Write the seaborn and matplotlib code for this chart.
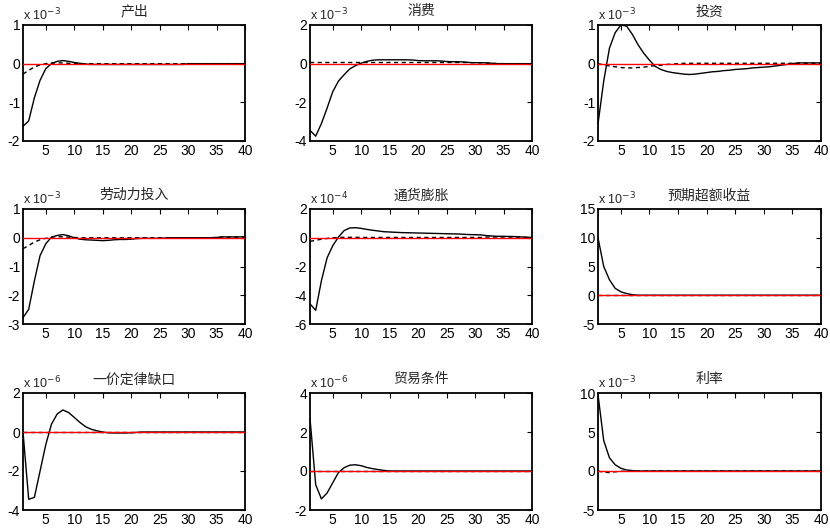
import matplotlib
matplotlib.use("Agg")
import matplotlib.pyplot as plt
import seaborn as sns
import pandas as pd

sns.set_style("white")
plt.rcParams['font.family'] = ['Liberation Sans Narrow', 'Liberation Sans', 'Noto Sans CJK SC', 'DejaVu Sans']
plt.rcParams['axes.unicode_minus'] = False

periods = list(range(1, 41))
xtick_vals = [5, 10, 15, 20, 25, 30, 35, 40]

titles = ["产出", "消费", "投资", "劳动力投入", "通货膨胀", "预期超额收益", "一价定律缺口", "贸易条件", "利率"]
exponents = [-3, -3, -3, -3, -4, -3, -6, -6, -3]
ylims = [(-2, 1), (-4, 2), (-2, 1), (-3, 1), (-6, 2), (-5, 15), (-4, 2), (-2, 4), (-5, 10)]
yticks = [[-2, -1, 0, 1], [-4, -2, 0, 2], [-2, -1, 0, 1], [-3, -2, -1, 0, 1],
          [-6, -4, -2, 0, 2], [-5, 0, 5, 10, 15], [-4, -2, 0, 2], [-2, 0, 2, 4], [-5, 0, 5, 10]]

out_solid = [-1.62, -1.48, -0.88, -0.43, -0.13, 0.00, 0.06, 0.08, 0.06, 0.03,
             0.01, -0.01, -0.02, -0.02, -0.02, -0.02, -0.02, -0.02, -0.02, -0.02,
             -0.02, -0.02, -0.02, -0.02, -0.02, -0.02, -0.02, -0.02, -0.02, 0.00,
             0.00, 0.00, 0.00, 0.00, 0.00, 0.00, 0.00, 0.00, 0.00, 0.00]
out_dash = [-0.27, -0.17, -0.09, -0.03, 0.00, 0.02, 0.02, 0.02, 0.01, 0.00,
            0.00, 0.00, 0.00, 0.00, 0.00, 0.00, 0.00, 0.00, 0.00, 0.00,
            0.00, 0.00, 0.00, 0.00, 0.00, 0.00, 0.00, 0.00, 0.00, 0.00,
            0.00, 0.00, 0.00, 0.00, 0.00, 0.00, 0.00, 0.00, 0.00, 0.00]

cons_solid = [-3.45, -3.75, -3.10, -2.30, -1.45, -0.90, -0.57, -0.27, -0.10, 0.03,
              0.12, 0.18, 0.20, 0.20, 0.20, 0.20, 0.20, 0.20, 0.19, 0.16,
              0.15, 0.15, 0.15, 0.14, 0.11, 0.10, 0.10, 0.09, 0.06, 0.05,
              0.05, 0.04, 0.02, 0.00, 0.00, 0.00, 0.00, 0.00, 0.00, 0.00]
cons_dash = [0.06, 0.06, 0.06, 0.06, 0.06, 0.06, 0.06, 0.06, 0.06, 0.06,
             0.06, 0.06, 0.06, 0.06, 0.06, 0.06, 0.06, 0.06, 0.06, 0.06,
             0.06, 0.06, 0.06, 0.06, 0.06, 0.06, 0.06, 0.06, 0.05, 0.05,
             0.04, 0.03, 0.02, 0.00, 0.00, 0.00, 0.00, 0.00, 0.00, 0.00]

inv_solid = [-1.56, -0.45, 0.40, 0.80, 1.00, 0.97, 0.76, 0.49, 0.27, 0.09,
             -0.07, -0.15, -0.20, -0.23, -0.25, -0.27, -0.28, -0.27, -0.25, -0.23,
             -0.21, -0.20, -0.18, -0.17, -0.15, -0.14, -0.13, -0.11, -0.10, -0.09,
             -0.08, -0.06, -0.04, -0.02, 0.00, 0.02, 0.02, 0.02, 0.02, 0.02]
inv_dash = [0.00, -0.03, -0.06, -0.08, -0.10, -0.11, -0.11, -0.10, -0.09, -0.07,
            -0.05, -0.04, -0.02, -0.01, 0.00, 0.01, 0.01, 0.01, 0.01, 0.01,
            0.01, 0.01, 0.01, 0.01, 0.01, 0.01, 0.01, 0.01, 0.01, 0.01,
            0.01, 0.01, 0.01, 0.01, 0.01, 0.01, 0.01, 0.01, 0.01, 0.01]

labor_solid = [-2.78, -2.49, -1.50, -0.62, -0.21, 0.02, 0.08, 0.11, 0.07, 0.00,
               -0.05, -0.07, -0.08, -0.09, -0.10, -0.09, -0.07, -0.06, -0.06, -0.05,
               -0.03, -0.02, -0.02, -0.02, -0.02, -0.01, 0.00, 0.00, 0.00, 0.00,
               0.00, 0.00, 0.00, 0.00, 0.01, 0.03, 0.03, 0.03, 0.03, 0.03]
labor_dash = [-0.38, -0.27, -0.15, -0.07, -0.02, 0.02, 0.04, 0.03, 0.02, 0.01,
              0.00, 0.00, 0.00, 0.00, 0.00, 0.00, 0.00, 0.00, 0.00, 0.00,
              0.00, 0.00, 0.00, 0.00, 0.00, 0.00, 0.00, 0.00, 0.00, 0.00,
              0.00, 0.00, 0.00, 0.00, 0.01, 0.02, 0.02, 0.02, 0.02, 0.02]

infl_solid = [-4.60, -5.05, -3.00, -1.40, -0.55, 0.05, 0.50, 0.68, 0.70, 0.65,
              0.58, 0.52, 0.47, 0.42, 0.40, 0.38, 0.36, 0.35, 0.34, 0.33,
              0.32, 0.31, 0.30, 0.29, 0.28, 0.27, 0.26, 0.24, 0.22, 0.21,
              0.20, 0.15, 0.12, 0.10, 0.10, 0.09, 0.08, 0.06, 0.04, 0.02]
infl_dash = [-0.25, -0.18, -0.10, -0.05, 0.00, 0.02, 0.03, 0.03, 0.03, 0.02,
             0.02, 0.02, 0.02, 0.02, 0.02, 0.02, 0.02, 0.02, 0.02, 0.02,
             0.02, 0.02, 0.02, 0.02, 0.02, 0.02, 0.02, 0.02, 0.02, 0.02,
             0.02, 0.05, 0.05, 0.05, 0.05, 0.05, 0.05, 0.05, 0.02, 0.02]

exr_solid = [10.0, 5.0, 2.7, 1.2, 0.6, 0.3, 0.1, 0.0, 0.0, 0.0,
             0.0, 0.0, 0.0, 0.0, 0.0, 0.0, 0.0, 0.0, 0.0, 0.0,
             0.0, 0.0, 0.0, 0.0, 0.0, 0.0, 0.0, 0.0, 0.0, 0.0,
             0.0, 0.0, 0.0, 0.0, 0.0, 0.0, 0.0, 0.0, 0.0, 0.0]
exr_dash = [0.0, 0.0, 0.0, 0.0, 0.0, 0.0, 0.0, 0.0, 0.0, 0.0,
            0.0, 0.0, 0.0, 0.0, 0.0, 0.0, 0.0, 0.0, 0.0, 0.0,
            0.0, 0.0, 0.0, 0.0, 0.0, 0.0, 0.0, 0.0, 0.0, 0.0,
            0.0, 0.0, 0.0, 0.0, 0.0, 0.0, 0.0, 0.0, 0.0, 0.0]

lop_solid = [0.00, -3.45, -3.35, -2.00, -0.65, 0.40, 0.92, 1.13, 1.00, 0.75,
             0.49, 0.27, 0.14, 0.06, 0.00, -0.04, -0.05, -0.05, -0.05, -0.04,
             -0.02, 0.00, 0.00, 0.00, 0.00, 0.00, 0.00, 0.00, 0.00, 0.00,
             0.00, 0.00, 0.00, 0.00, 0.00, 0.00, 0.00, 0.00, 0.00, 0.00]
lop_dash = [0.0, 0.0, 0.0, 0.0, 0.0, 0.0, 0.0, 0.0, 0.0, 0.0,
            0.0, 0.0, 0.0, 0.0, 0.0, 0.0, 0.0, 0.0, 0.0, 0.0,
            0.0, 0.0, 0.0, 0.0, 0.0, 0.0, 0.0, 0.0, 0.0, 0.0,
            0.0, 0.0, 0.0, 0.0, 0.0, 0.0, 0.0, 0.0, 0.0, 0.0]

tot_solid = [2.70, -0.70, -1.43, -1.13, -0.60, -0.08, 0.17, 0.30, 0.32, 0.27,
             0.18, 0.12, 0.07, 0.03, 0.00, 0.00, 0.00, 0.00, 0.00, 0.00,
             0.00, 0.00, 0.00, 0.00, 0.00, 0.00, 0.00, 0.00, 0.00, 0.00,
             0.00, 0.00, 0.00, 0.00, 0.00, 0.00, 0.00, 0.00, 0.00, 0.00]
tot_dash = [0.0, 0.0, 0.0, 0.0, 0.0, 0.0, 0.0, 0.0, 0.0, 0.0,
            0.0, 0.0, 0.0, 0.0, 0.0, 0.0, 0.0, 0.0, 0.0, 0.0,
            0.0, 0.0, 0.0, 0.0, 0.0, 0.0, 0.0, 0.0, 0.0, 0.0,
            0.0, 0.0, 0.0, 0.0, 0.0, 0.0, 0.0, 0.0, 0.0, 0.0]

rate_solid = [9.8, 3.9, 1.7, 0.8, 0.35, 0.13, 0.05, 0.0, 0.0, 0.0,
              0.0, 0.0, 0.0, 0.0, 0.0, 0.0, 0.0, 0.0, 0.0, 0.0,
              0.0, 0.0, 0.0, 0.0, 0.0, 0.0, 0.0, 0.0, 0.0, 0.0,
              0.0, 0.0, 0.0, 0.0, 0.0, 0.0, 0.0, 0.0, 0.0, 0.0]
rate_dash = [0.0, -0.15, -0.20, -0.10, -0.05, 0.0, 0.0, 0.0, 0.0, 0.0,
             0.0, 0.0, 0.0, 0.0, 0.0, 0.0, 0.0, 0.0, 0.0, 0.0,
             0.0, 0.0, 0.0, 0.0, 0.0, 0.0, 0.0, 0.0, 0.0, 0.0,
             0.0, 0.0, 0.0, 0.0, 0.0, 0.0, 0.0, 0.0, 0.0, 0.0]

solids = [out_solid, cons_solid, inv_solid, labor_solid, infl_solid, exr_solid, lop_solid, tot_solid, rate_solid]
dashes = [out_dash, cons_dash, inv_dash, labor_dash, infl_dash, exr_dash, lop_dash, tot_dash, rate_dash]

W, H = 830, 531
fig = plt.figure(figsize=(W / 100, H / 100), dpi=100)
fig.patch.set_facecolor("white")

col_lr = [(23, 245), (310, 532), (598, 821)]
row_tb = [(25, 141), (209, 324), (393, 510)]

for i in range(9):
    r, c = divmod(i, 3)
    l, rr = col_lr[c]
    t, b = row_tb[r]
    ax = fig.add_axes([l / W, 1 - b / H, (rr - l) / W, (b - t) / H])
    df = pd.DataFrame({"period": periods, "solid": solids[i], "dash": dashes[i]})
    sns.lineplot(data=df, x="period", y="dash", ax=ax, color="black", lw=1.0,
                 linestyle=(0, (3, 2.5)), zorder=2)
    sns.lineplot(data=df, x="period", y="solid", ax=ax, color="black", lw=1.0, zorder=3)
    ax.axhline(0, color="red", lw=1.0, zorder=4)
    ax.set_xlim(1, 40)
    ax.set_ylim(*ylims[i])
    ax.set_xticks(xtick_vals)
    ax.set_yticks(yticks[i])
    ax.set_xlabel("")
    ax.set_ylabel("")
    ax.tick_params(direction="in", length=3.5, width=0.8, top=True, right=True,
                   labelsize=10, pad=2, colors="black")
    for sp in ax.spines.values():
        sp.set_color("black")
        sp.set_linewidth(1.3)
    ax.set_title(titles[i], fontsize=10, pad=7, family=['Noto Sans CJK SC', 'DejaVu Sans'])
    ax.text(0.0, 1.015, "x 10$^{%d}$" % exponents[i], transform=ax.transAxes,
            ha="left", va="bottom", fontsize=9)

fig.savefig("out.png", dpi=100, facecolor="white")
